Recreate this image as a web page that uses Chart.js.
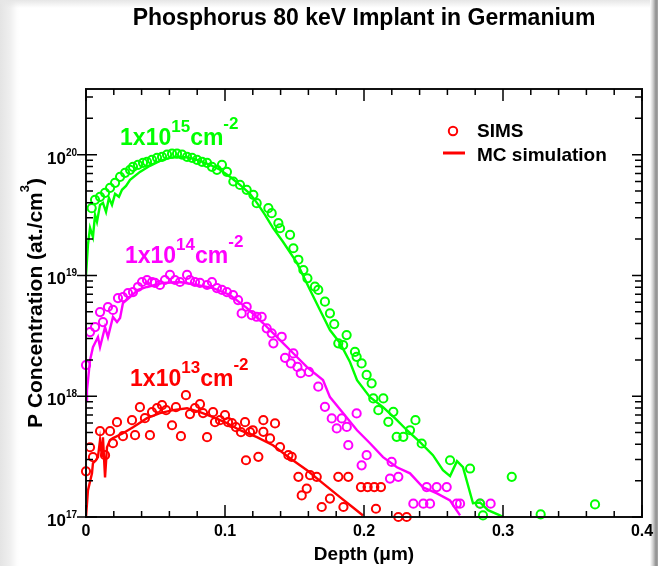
<!DOCTYPE html>
<html>
<head>
<meta charset="utf-8">
<script src="https://cdn.jsdelivr.net/npm/chart.js@4"></script>
<style>
html,body{margin:0;padding:0;background:#fff;}
#wrap{position:relative;width:658px;height:566px;overflow:hidden;
  background:linear-gradient(to right,#e4e4e4 0px,#efefef 10px,#fdfdfd 17px,#fff 20px,#fff 650px,#cfcfcf 653px,#8f8f8f 656px,#a8a8a8 658px);}
#wrap::before{content:'';position:absolute;left:0;top:0;width:650px;height:8px;background:linear-gradient(#e6e6e6,rgba(255,255,255,0));}
canvas{position:absolute;left:0;top:0;}
</style>
</head>
<body>
<div id="wrap"><canvas id="c" width="658" height="566"></canvas></div>
<script>
// ---------- data (depth in µm, concentration in at./cm^3) ----------
const sims15Depth = [0.0041,0.0065,0.0101,0.0137,0.0173,0.0209,0.0245,0.0281,0.0317,0.0338,0.0374,0.0410,0.0439,0.0475,0.0511,0.0547,0.0583,0.0619,0.0655,0.0691,0.0727,0.0763,0.0799,0.0835,0.0871,0.0906,0.0942,0.0978,0.1014,0.1060,0.1108,0.1156,0.1204,0.1228,0.1312,0.1336,0.1384,0.1396,0.1468,0.1492,0.1528,0.1564,0.1593,0.1647,0.1671,0.1719,0.1755,0.1786,0.1815,0.1850,0.1875,0.1935,0.1947,0.1983,0.2019,0.2055,0.2067,0.2103,0.2139,0.2175,0.2211,0.2235,0.2283,0.2331,0.2370,0.2415,0.2619,0.2763,0.2835,0.2856,0.3063,0.3271,0.3662];
const sims15Conc = [3.61e19,4.23e19,4.48e19,4.83e19,5.32e19,5.85e19,6.56e19,7.08e19,7.50e19,7.94e19,8.25e19,8.57e19,8.73e19,9.07e19,9.43e19,9.61e19,1.00e20,1.02e20,1.02e20,1.00e20,9.61e19,9.43e19,9.07e19,8.73e19,8.57e19,7.94e19,7.50e19,8.25e19,7.21e19,6.0e19,5.62e19,5.12e19,4.65e19,3.97e19,3.61e19,3.28e19,2.71e19,2.46e19,2.17e19,1.68e19,1.35e19,1.11e19,9.48e18,8.07e18,7.59e18,6.07e18,4.86e18,3.96e18,2.74e18,2.65e18,3.21e18,2.33e18,2.12e18,1.87e18,1.50e18,1.28e18,9.59e17,7.67e17,9.59e17,6.14e17,7.43e17,4.61e17,4.61e17,5.23e17,6.34e17,4.06e17,2.95e17,2.52e17,1.29e17,1.03e17,2.15e17,1.05e17,1.27e17];
const mc15Depth = [0,0.0014,0.0029,0.0050,0.0065,0.0079,0.0101,0.0122,0.0144,0.0165,0.0187,0.0209,0.0237,0.0259,0.0288,0.0317,0.0388,0.0460,0.0532,0.0604,0.0676,0.0748,0.0820,0.0892,0.0964,0.1036,0.1108,0.1180,0.1230,0.1288,0.1345,0.1417,0.1518,0.1612,0.1683,0.1755,0.1827,0.1899,0.1950,0.2043,0.2137,0.2237,0.2309,0.2403,0.2496,0.2568,0.2619,0.2669,0.2712,0.2784,0.2835,0.2892,0.2978,0.3000];
const mc15Conc = [1.0e19,1.79e19,2.48e19,2.08e19,3.18e19,2.78e19,3.84e19,3.99e19,3.36e19,4.39e19,3.84e19,4.74e19,4.48e19,5.12e19,5.52e19,6.19e19,7.21e19,8.09e19,8.90e19,9.42e19,9.61e19,9.43e19,8.90e19,8.25e19,7.50e19,6.56e19,5.62e19,4.74e19,3.99e19,3.18e19,2.48e19,1.90e19,1.27e19,7.59e18,5.18e18,3.53e18,2.76e18,1.92e18,1.36e18,9.83e17,8.12e17,6.34e17,5.23e17,4.16e17,3.25e17,2.44e17,2.18e17,2.90e17,2.59e17,1.30e17,1.32e17,1.14e17,1.03e17,1.0e17];

const sims14Depth = [0.0,0.0029,0.0065,0.0101,0.0122,0.0158,0.0194,0.0230,0.0266,0.0302,0.0338,0.0374,0.0403,0.0439,0.0475,0.0496,0.0532,0.0568,0.0604,0.0640,0.0676,0.0727,0.0748,0.0784,0.0820,0.0871,0.0906,0.0942,0.0978,0.1014,0.1058,0.1094,0.1120,0.1156,0.1192,0.1228,0.1264,0.1300,0.1336,0.1348,0.1408,0.1432,0.1474,0.1492,0.1521,0.1545,0.1604,0.1671,0.1719,0.1768,0.1804,0.1840,0.1876,0.1887,0.1947,0.1983,0.2019,0.2187,0.2199,0.2247,0.2355,0.2427,0.2451,0.2475,0.2523,0.2595,0.2667,0.2691,0.2835,0.2911];
const sims14Conc = [1.81e18,3.40e18,3.74e18,4.98e18,4.11e18,5.48e18,5.18e18,6.50e18,6.62e18,7.16e18,7.29e18,8.03e18,8.83e18,9.17e18,8.83e18,8.67e18,8.34e18,9.17e18,1.01e19,9.17e18,8.83e18,1.01e19,9.17e18,8.83e18,8.67e18,8.34e18,8.83e18,7.87e18,7.59e18,7.29e18,6.89e18,6.26e18,4.85e18,5.51e18,4.70e18,4.55e18,4.55e18,3.65e18,3.32e18,2.74e18,3.11e18,2.08e18,1.87e18,2.26e18,1.75e18,1.55e18,1.59e18,1.20e18,8.17e17,6.55e17,5.41e17,6.55e17,5.57e17,3.93e17,7.20e17,2.68e17,3.25e17,2.08e17,2.86e17,2.15e17,1.29e17,1.29e17,1.77e17,1.29e17,1.77e17,1.77e17,1.29e17,1.29e17,1.29e17,1.29e17];
const mc14Depth = [0,0.0007,0.0029,0.0050,0.0086,0.0101,0.0137,0.0158,0.0194,0.0223,0.0245,0.0266,0.0317,0.0374,0.0439,0.0554,0.0676,0.0799,0.0914,0.1036,0.1158,0.1273,0.1396,0.1489,0.1590,0.1705,0.1755,0.1849,0.1950,0.2043,0.2137,0.2237,0.2331,0.2424,0.2525,0.2619,0.2691];
const mc14Conc = [9.29e17,1.12e18,1.99e18,2.55e18,3.09e18,2.55e18,3.74e18,3.09e18,4.53e18,4.11e18,4.45e18,5.92e18,6.62e18,7.59e18,8.03e18,8.67e18,8.83e18,8.34e18,7.87e18,6.89e18,5.37e18,4.04e18,2.92e18,2.28e18,1.74e18,1.36e18,9.83e17,7.25e17,5.23e17,4.08e17,3.13e17,2.58e17,2.30e17,1.76e17,1.57e17,1.37e17,1.03e17];

const sims13Depth = [0.0,0.0029,0.0050,0.0101,0.0137,0.0173,0.0194,0.0223,0.0266,0.0331,0.0353,0.0388,0.0424,0.0460,0.0475,0.0511,0.0547,0.0576,0.0619,0.0647,0.0683,0.0719,0.0748,0.0784,0.0820,0.0842,0.0871,0.0914,0.0928,0.0964,0.1000,0.1022,0.1050,0.1079,0.1115,0.1144,0.1151,0.1180,0.1200,0.1240,0.1276,0.1276,0.1324,0.1360,0.1396,0.1456,0.1480,0.1528,0.1552,0.1588,0.1612,0.1660,0.1696,0.1755,0.1815,0.1852,0.1887,0.1978,0.2026,0.2074,0.2086,0.2122,0.2247,0.2307];
const sims13Conc = [2.39e17,3.78e17,3.13e17,5.14e17,3.25e17,5.14e17,4.08e17,6.10e17,4.67e17,6.34e17,4.76e17,8.12e17,6.58e17,4.76e17,7.38e17,7.96e17,8.43e17,7.67e17,5.75e17,8.12e17,4.67e17,1.02e18,7.11e17,7.96e17,8.59e17,7.25e17,4.58e17,7.38e17,6.10e17,6.34e17,6.97e17,6.10e17,5.98e17,5.54e17,5.04e17,6.10e17,2.95e17,5.04e17,5.23e17,3.15e17,6.34e17,5.07e17,4.47e17,5.95e17,3.80e17,3.25e17,3.15e17,2.15e17,1.51e17,1.72e17,2.22e17,2.15e17,1.21e17,1.42e17,2.15e17,1.21e17,2.15e17,1.77e17,1.77e17,1.77e17,1.17e17,1.77e17,1.0e17,1.0e17];
const mc13Depth = [0,0.0014,0.0043,0.0050,0.0072,0.0086,0.0101,0.0115,0.0122,0.0137,0.0151,0.0173,0.0194,0.0266,0.0338,0.0439,0.0532,0.0626,0.0727,0.0820,0.0914,0.1014,0.1108,0.1230,0.1345,0.1468,0.1590,0.1705,0.1827,0.1921,0.1993];
const mc13Conc = [1.0e17,1.66e17,2.30e17,2.79e17,2.95e17,3.13e17,4.33e17,3.13e17,4.58e17,2.13e17,3.78e17,4.33e17,4.50e17,4.94e17,5.54e17,6.58e17,7.25e17,7.67e17,7.96e17,7.38e17,6.71e17,5.98e17,5.23e17,4.58e17,3.93e17,3.07e17,2.44e17,1.90e17,1.46e17,1.20e17,1.03e17];

// axis ticks / labels
const depthTicks = [0, 0.1, 0.2, 0.3, 0.4];
const depthTickLabels = ['0', '0.1', '0.2', '0.3', '0.4'];
const concDecades = [17, 18, 19, 20];
const doseExponents = ['15', '14', '13'];
const doseLabelAnchorDepth = [0.0245, 0.028, 0.0317];
const doseLabelAnchorConc = [1.21e20, 1.27e19, 1.21e18];

const GREEN = '#00ff00', MAGENTA = '#ff00ff', RED = '#ff0000';
const doseColors = [GREEN, MAGENTA, RED];
const FONT = '"Liberation Sans", Arial, Helvetica, sans-serif';

function pts(xs, ys) { return xs.map((x, i) => ({ x: x, y: ys[i] })); }
function sims(xs, ys, c) {
  return { data: pts(xs, ys), showLine: false, pointStyle: 'circle', pointRadius: 4.1,
    borderColor: c, backgroundColor: 'rgba(0,0,0,0)', borderWidth: 2, clip: false };
}
function mc(xs, ys, c) {
  return { data: pts(xs, ys), showLine: true, pointRadius: 0, borderColor: c,
    backgroundColor: c, borderWidth: 2.4, tension: 0 };
}

const deco = {
  id: 'deco',
  afterDraw(chart) {
    const ctx = chart.ctx, a = chart.chartArea, xs = chart.scales.x, ys = chart.scales.y;
    ctx.save();
    // frame
    ctx.strokeStyle = '#111';
    ctx.lineWidth = 2;
    ctx.strokeRect(a.left, a.top, a.right - a.left, a.bottom - a.top);
    ctx.lineWidth = 1.5;
    ctx.strokeStyle = '#000';
    // x ticks (major + 4 minor per interval), bottom and top, inward
    ctx.beginPath();
    for (let i = 0; i < depthTicks.length; i++) {
      const px = xs.getPixelForValue(depthTicks[i]);
      ctx.moveTo(px, a.bottom); ctx.lineTo(px, a.bottom - 12);
      ctx.moveTo(px, a.top); ctx.lineTo(px, a.top + 12);
      if (i < depthTicks.length - 1) {
        for (let j = 1; j < 5; j++) {
          const v = depthTicks[i] + (depthTicks[i + 1] - depthTicks[i]) * j / 5;
          const q = xs.getPixelForValue(v);
          ctx.moveTo(q, a.bottom); ctx.lineTo(q, a.bottom - 6);
          ctx.moveTo(q, a.top); ctx.lineTo(q, a.top + 6);
        }
      }
    }
    // y ticks
    for (const d of concDecades) {
      const py = ys.getPixelForValue(Math.pow(10, d));
      ctx.moveTo(a.left - 9, py); ctx.lineTo(a.left + 11, py);
      ctx.moveTo(a.right, py); ctx.lineTo(a.right - 10, py);
      for (let m = 2; m <= 9; m++) {
        const v = m * Math.pow(10, d);
        if (v > ys.max) break;
        const q = ys.getPixelForValue(v);
        ctx.moveTo(a.left, q); ctx.lineTo(a.left + 7, q);
        ctx.moveTo(a.right, q); ctx.lineTo(a.right - 7, q);
      }
    }
    ctx.stroke();

    ctx.fillStyle = '#000';
    // x tick labels
    ctx.font = 'bold 16px ' + FONT;
    ctx.textAlign = 'center';
    ctx.textBaseline = 'alphabetic';
    depthTicks.forEach((v, i) => {
      ctx.fillText(depthTickLabels[i], xs.getPixelForValue(v), 536);
    });
    // y tick labels: 10^n
    concDecades.forEach(d => {
      const py = ys.getPixelForValue(Math.pow(10, d));
      ctx.font = 'bold 10px ' + FONT;
      const ws = ctx.measureText(String(d)).width;
      ctx.textAlign = 'right';
      ctx.fillText(String(d), 77, py + 1);
      ctx.font = 'bold 17px ' + FONT;
      ctx.fillText('10', 77 - ws, py + 9);
    });
    // x title
    ctx.textAlign = 'center';
    ctx.font = 'bold 19px ' + FONT;
    ctx.fillText('Depth (\u03bcm)', (a.left + a.right) / 2, 560);
    // title
    ctx.font = 'bold 23px ' + FONT;
    ctx.fillText('Phosphorus 80 keV Implant in Germanium', (a.left + a.right) / 2, 25);
    // y title (rotated)
    ctx.save();
    ctx.translate(42, (a.top + a.bottom) / 2);
    ctx.rotate(-Math.PI / 2);
    ctx.textAlign = 'left';
    const p1 = 'P Concentration (at./cm', p2 = '3', p3 = ')';
    ctx.font = 'bold 21px ' + FONT; const w1 = ctx.measureText(p1).width, w3 = ctx.measureText(p3).width;
    ctx.font = 'bold 13px ' + FONT; const w2 = ctx.measureText(p2).width;
    let sx = -(w1 + w2 + w3) / 2;
    ctx.font = 'bold 21px ' + FONT; ctx.fillText(p1, sx, 0); sx += w1;
    ctx.font = 'bold 13px ' + FONT; ctx.fillText(p2, sx, -13); sx += w2;
    ctx.font = 'bold 21px ' + FONT; ctx.fillText(p3, sx, 0);
    ctx.restore();

    // dose labels
    ctx.textAlign = 'left';
    doseExponents.forEach((e, i) => {
      let x = xs.getPixelForValue(doseLabelAnchorDepth[i]);
      const y = ys.getPixelForValue(doseLabelAnchorConc[i]);
      ctx.fillStyle = doseColors[i];
      ctx.font = 'bold 23px ' + FONT; ctx.fillText('1x10', x, y); x += ctx.measureText('1x10').width;
      ctx.font = 'bold 17px ' + FONT; ctx.fillText(e, x, y - 13); x += ctx.measureText(e).width;
      ctx.font = 'bold 23px ' + FONT; ctx.fillText('cm', x, y); x += ctx.measureText('cm').width;
      ctx.font = 'bold 17px ' + FONT; ctx.fillText('-2', x, y - 16);
    });

    // legend
    ctx.strokeStyle = RED;
    ctx.lineWidth = 2;
    ctx.beginPath(); ctx.arc(453, 131, 4.2, 0, Math.PI * 2); ctx.stroke();
    ctx.lineWidth = 3;
    ctx.beginPath(); ctx.moveTo(443, 153); ctx.lineTo(465, 153); ctx.stroke();
    ctx.fillStyle = '#000';
    ctx.font = 'bold 19px ' + FONT;
    ctx.fillText('SIMS', 477, 137);
    ctx.fillText('MC simulation', 477, 161);
    ctx.restore();
  }
};

new Chart(document.getElementById('c'), {
  type: 'scatter',
  data: {
    datasets: [
      sims(sims15Depth, sims15Conc, GREEN), mc(mc15Depth, mc15Conc, GREEN),
      sims(sims14Depth, sims14Conc, MAGENTA), mc(mc14Depth, mc14Conc, MAGENTA),
      sims(sims13Depth, sims13Conc, RED), mc(mc13Depth, mc13Conc, RED)
    ]
  },
  options: {
    responsive: false,
    animation: false,
    devicePixelRatio: 1,
    events: [],
    layout: { padding: { left: 86, right: 16, top: 89, bottom: 49 } },
    plugins: { legend: { display: false }, tooltip: { enabled: false }, title: { display: false } },
    scales: {
      x: { type: 'linear', min: 0, max: 0.4, display: false },
      y: { type: 'logarithmic', min: 1e17, max: 3.5e20, display: false }
    }
  },
  plugins: [deco]
});
</script>
</body>
</html>
